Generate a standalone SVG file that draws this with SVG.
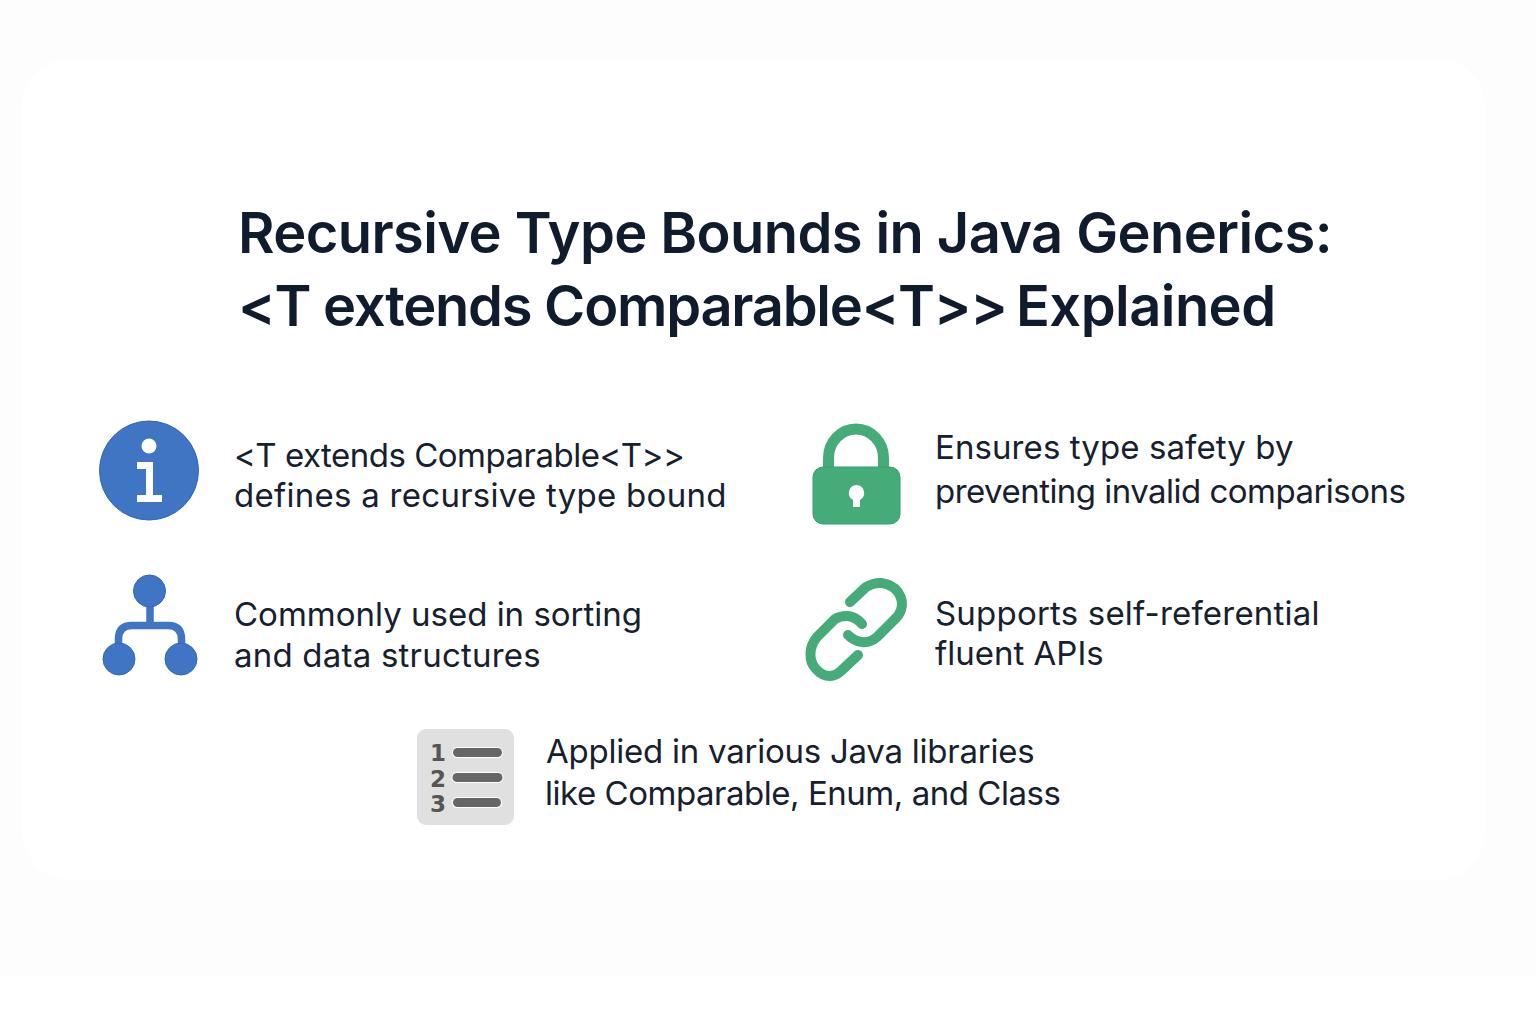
<svg xmlns="http://www.w3.org/2000/svg" width="1536" height="1024" viewBox="0 0 1536 1024">
<style>
.t{font-family:"Inter","Liberation Sans",sans-serif;font-weight:600;font-size:56px;fill:#101b2e}
.b{font-family:"Inter","Liberation Sans",sans-serif;font-weight:400;font-size:33px;fill:#16202f}
.blue{fill:#3f75c3;stroke:#2f68bf;stroke-width:1}
.green{fill:#45ab79;stroke:#35a26c;stroke-width:1}
.gl{fill:none;stroke:#45ab79;stroke-width:10;stroke-linecap:round;stroke-linejoin:round}
.bar{fill:#666;stroke:#fff;stroke-width:2;paint-order:stroke}
.n{font-family:"DejaVu Sans","Liberation Sans",sans-serif;font-weight:700;font-size:23px;fill:#555}
</style>
<rect width="1536" height="1024" fill="#fff"/>
<rect width="1536" height="977" fill="#fdfdfd"/>
<rect x="22" y="59" width="1463" height="821" rx="48" fill="#fff"/>
<g id="title">
<text class="t" x="238" y="252.500" letter-spacing="-0.59">Recursive Type Bounds in Java Generics:</text>
<text class="t" y="325.500"><tspan x="238" letter-spacing="-1.25">&lt;T extends Comparable&lt;T&gt;&gt;</tspan> <tspan x="1016" letter-spacing="-0.55">Explained</tspan></text>
</g>
<g id="node-info">
<circle class="blue" cx="149" cy="470.500" r="49.500"/>
<circle cx="149" cy="446" r="7.500" fill="#fff"/>
<path d="M137 462H153V495H162V502H137V495H146V469H137Z" fill="#fff"/>
<text class="b" x="234" y="467" letter-spacing="-0.5">&lt;T extends Comparable&lt;T&gt;&gt;</text>
<text class="b" x="234" y="507" letter-spacing="0.27">defines a recursive type bound</text>
</g>
<g id="node-lock">
<path d="M828.500 470V458A27.500 29 0 0 1 883.500 458V470" fill="none" stroke="#45ab79" stroke-width="11"/>
<path class="green" d="M823 467H890A10 10 0 0 1 900 477V514A10 10 0 0 1 890 524H823A10 10 0 0 1 813 514V477A10 10 0 0 1 823 467Z"/>
<path d="M856.500 485A8 8 0 0 1 860 500V507H853V500A8 8 0 0 1 856.500 485Z" fill="#fff"/>
<text class="b" x="935" y="459" letter-spacing="0.09">Ensures type safety by</text>
<text class="b" x="935" y="503" letter-spacing="-0.53">preventing invalid comparisons</text>
</g>
<g id="node-tree">
<path d="M150 600V626M118.500 655V639Q118.500 625.500 132 625.500H168Q181.500 625.500 181.500 639V655" fill="none" stroke="#3f75c3" stroke-width="7.500"/>
<circle class="blue" cx="149.500" cy="591" r="16"/>
<circle class="blue" cx="119" cy="659" r="16"/>
<circle class="blue" cx="181" cy="659" r="16"/>
<text class="b" x="234" y="626">Commonly used in sorting</text>
<text class="b" x="234" y="667" letter-spacing="0.21">and data structures</text>
</g>
<g id="node-link">
<path class="gl" d="M850 602L866 587Q874 582.500 881 583Q892 584 898 592Q904 601 901 610Q899 616 894 620L877 637Q870 643 862 642Q854 641 848 635"/>
<path class="gl" d="M862 624Q856 617 848 616Q841 615.500 835 619L817 637Q811 644 810.500 653Q810 663 816 669Q822 676 830 676Q836 676 841 671L858 655"/>
<text class="b" x="935" y="625" letter-spacing="0.2">Supports self-referential</text>
<text class="b" x="935" y="665">fluent APIs</text>
</g>
<g id="node-list">
<rect x="417" y="729" width="97" height="96" rx="9" fill="#e0e0e0"/>
<text class="n" x="430" y="761">1</text>
<text class="n" x="430" y="787">2</text>
<text class="n" x="430" y="812">3</text>
<rect class="bar" x="453" y="748" width="49" height="9" rx="4.500"/>
<rect class="bar" x="452.500" y="773" width="50" height="9" rx="4.500"/>
<rect class="bar" x="453" y="798" width="48" height="9" rx="4.500"/>
<text class="b" x="546" y="763" letter-spacing="-0.24">Applied in various Java libraries</text>
<text class="b" x="545" y="805" letter-spacing="-0.47">like Comparable, Enum, and Class</text>
</g>
<g id="connectors"/>
</svg>
